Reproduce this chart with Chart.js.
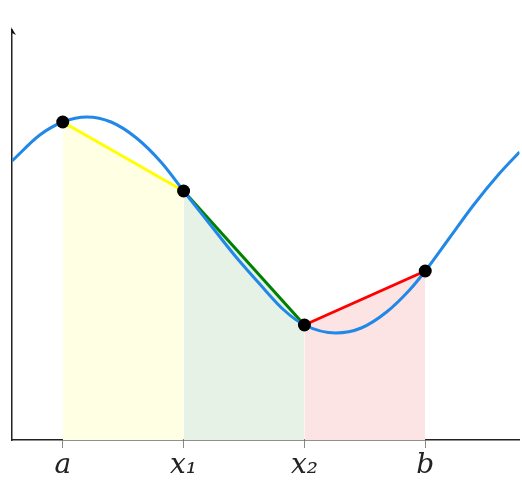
<!DOCTYPE html>
<html>
<head>
<meta charset="utf-8">
<script src="https://cdn.jsdelivr.net/npm/chart.js@4.4.1/dist/chart.umd.min.js"></script>
<style>
  html, body { margin: 0; background: #fff; overflow: hidden; }
  #wrap { width: 526px; height: 484px; position: relative; }
</style>
</head>
<body>
<div id="wrap"><canvas id="trapChart"></canvas></div>
<script>
// curve f(x)
const curveX = [0.58, 0.81, 1.00, 1.20, 1.40, 1.61, 1.82, 2.00, 2.21, 2.42, 2.63, 2.83, 3.00, 3.26, 3.47, 3.68, 3.87, 4.00, 4.20, 4.40, 4.61, 4.78];
const curveY = [2.79, 3.05, 3.18, 3.23, 3.18, 3.02, 2.77, 2.49, 2.17, 1.85, 1.56, 1.30, 1.15, 1.07, 1.12, 1.28, 1.50, 1.69, 2.02, 2.35, 2.66, 2.88];

// nodes a, x1, x2, b
const nodeX = [1, 2, 3, 4];
const nodeY = [3.18, 2.49, 1.15, 1.69];
const tickLabels = ['a', 'x₁', 'x₂', 'b'];

const segLine = ['#ffff00', '#008000', '#ff0000'];
const segFill = ['#ffffe4', '#e6f2e6', '#fde4e4'];

const pts = (xs, ys) => xs.map((x, i) => ({ x: x, y: ys[i] }));

const datasets = [];
datasets.push({
  data: pts(nodeX, nodeY),
  showLine: false,
  pointRadius: 6.5,
  pointBackgroundColor: '#000',
  pointBorderWidth: 0,
  order: 0
});
datasets.push({
  data: pts(curveX, curveY),
  showLine: true,
  borderColor: '#2288e8',
  borderWidth: 3,
  pointRadius: 0,
  cubicInterpolationMode: 'monotone',
  fill: false,
  order: 1
});
for (let i = 0; i < 3; i++) {
  datasets.push({
    data: pts(nodeX.slice(i, i + 2), nodeY.slice(i, i + 2)),
    showLine: true,
    borderColor: segLine[i],
    backgroundColor: segFill[i],
    borderWidth: 3,
    pointRadius: 0,
    fill: 'origin',
    order: 2
  });
}

// little arrow head on top of the y axis
const arrows = {
  id: 'arrows',
  afterDraw(chart) {
    const c = chart.ctx, a = chart.chartArea;
    c.save();
    c.fillStyle = '#111';
    c.beginPath();
    c.moveTo(a.left - 1, a.top - 3);
    c.lineTo(a.left + 4, a.top + 5);
    c.lineTo(a.left, a.top + 3);
    c.closePath();
    c.fill();
    c.restore();
  }
};

new Chart(document.getElementById('trapChart'), {
  type: 'scatter',
  data: { datasets: datasets },
  plugins: [arrows],
  options: {
    responsive: true,
    maintainAspectRatio: false,
    animation: false,
    layout: { padding: { left: 12, right: 0, top: 30, bottom: 0 } },
    plugins: {
      legend: { display: false },
      tooltip: { enabled: false },
      filler: { drawTime: 'beforeDatasetsDraw' }
    },
    scales: {
      x: {
        type: 'linear',
        min: 0.58,
        max: 4.78,
        afterBuildTicks: (scale) => { scale.ticks = nodeX.map(v => ({ value: v })); },
        ticks: {
          callback: (v) => tickLabels[nodeX.indexOf(v)],
          font: { family: 'DejaVu Serif', style: 'italic', size: 28, lineHeight: 1.0 },
          color: '#222',
          padding: 4,
          maxRotation: 0,
          autoSkip: false
        },
        grid: { drawOnChartArea: false, tickLength: 8, color: '#888', lineWidth: 1 },
        border: { display: true, color: '#222', width: 1.5 }
      },
      y: {
        min: 0,
        max: 4.1,
        ticks: { display: false },
        grid: { display: false, drawTicks: false },
        border: { display: true, color: '#222', width: 1.5 }
      }
    }
  }
});
</script>
</body>
</html>
